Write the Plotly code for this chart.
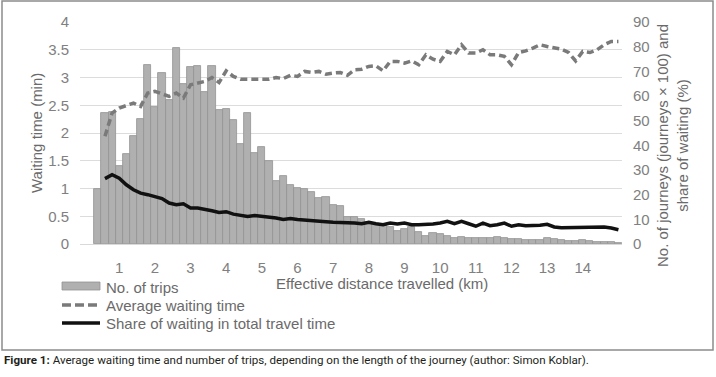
import plotly.graph_objects as go

# ---- data ----
distance_km = [round(0.2 * i, 1) for i in range(2, 76)]  # 0.4 ... 15.0 km bins
trips_x100 = [22.3, 53.3, 53.6, 31.5, 36.5, 43.7, 50.6, 72.5, 55.4, 69.5,
              58.5, 79.4, 64.8, 71.8, 72.0, 61.7, 72.2, 54.5, 54.7, 50.4,
              40.7, 53.1, 36.9, 39.4, 33.5, 25.4, 27.5, 23.9, 22.7, 22.3,
              20.9, 18.5, 19.1, 16.0, 15.3, 11.0, 11.0, 10.1, 8.8, 8.1,
              7.7, 6.8, 5.4, 6.1, 6.8, 5.0, 3.4, 4.5, 4.1, 3.2,
              2.3, 2.9, 2.3, 2.5, 2.6, 2.4, 2.9, 2.6, 2.2, 2.0,
              1.8, 1.7, 1.6, 2.3, 1.9, 1.5, 1.2, 1.1, 1.5, 1.3,
              1.0, 0.8, 0.7, 0.6]
line_x = distance_km[1:]
avg_wait_min = [1.94, 2.36, 2.45, 2.49, 2.54, 2.48, 2.72, 2.75, 2.70, 2.66,
                2.72, 2.63, 2.87, 2.90, 2.93, 3.00, 2.91, 3.12, 3.02, 2.97, 2.97,
                2.97, 2.97, 2.97, 3.00, 2.98, 3.04, 3.02, 3.11, 3.09, 3.11,
                3.06, 3.08, 3.09, 3.04, 3.14, 3.15, 3.20, 3.21, 3.12, 3.29,
                3.29, 3.26, 3.30, 3.23, 3.41, 3.33, 3.29, 3.47, 3.41, 3.59,
                3.44, 3.44,
                3.50, 3.41, 3.41, 3.38, 3.23, 3.45, 3.48, 3.53, 3.59, 3.56,
                3.54, 3.51, 3.45, 3.30, 3.47, 3.45, 3.50, 3.59, 3.65, 3.65]
share_wait_pct = [26.5, 28.1, 26.7, 24.0, 22.0, 20.6, 20.0, 19.3, 18.4, 16.6,
                  15.9, 16.3, 14.6, 14.6, 14.2, 13.5, 12.8, 13.1, 12.1, 11.6, 11.2,
                  11.5, 11.2, 10.9, 10.5, 9.9, 10.3, 9.9, 9.6, 9.6, 9.2,
                  9.0, 8.8, 8.8, 8.5, 8.5, 8.2, 8.8, 8.2, 7.8, 8.5,
                  8.1, 8.5, 7.8, 7.8, 7.8, 8.1, 8.5, 9.2, 8.2, 9.2,
                  8.2, 7.2,
                  8.5, 7.4, 7.8, 8.5, 7.2, 7.8, 7.4, 7.4, 7.6, 8.0,
                  6.9, 6.6, 6.6, 6.7, 6.7, 6.9, 6.6, 6.9, 6.5, 5.8]
x_ticks = list(range(1, 15))
left_ticks = [0, 0.5, 1, 1.5, 2, 2.5, 3, 3.5, 4]
left_labels = ["0", "0.5", "1", "1.5", "2", "2.5", "3", "3.5", "4"]
right_ticks = list(range(0, 91, 10))

# ---- layout geometry (pixels) ----
W, H = 716, 377
L, R, T, B = 80, 622, 22, 244


def px(x):
    return (x - L) / (R - L)


def py(y):
    return (B - y) / (B - T)


FONT = "Liberation Sans, Arial, sans-serif"
TICK_C = "#808080"
TXT_C = "#6a6a6a"
DASH = "7px,4px"

fig = go.Figure()
# right axis (primary y): bars and share of waiting
fig.add_trace(go.Bar(x=distance_km, y=trips_x100, name="No. of trips", yaxis="y",
                     marker=dict(color="#b0b0b0", line=dict(color="#929292", width=0.8)),
                     showlegend=False))
fig.add_trace(go.Scatter(x=line_x, y=share_wait_pct, name="Share of waiting in total travel time",
                         yaxis="y", mode="lines", line=dict(color="#111111", width=3.5),
                         showlegend=False))
# left axis (overlay y2): average waiting time
fig.add_trace(go.Scatter(x=line_x, y=avg_wait_min, name="Average waiting time", yaxis="y2",
                         mode="lines", line=dict(color="#7a7a7a", width=3.5, dash=DASH),
                         showlegend=False))

shapes = [
    dict(type="rect", xref="paper", yref="paper", x0=px(2), x1=px(713), y0=py(350), y1=py(1),
         line=dict(color="#8c8c8c", width=1.5), layer="below"),
    dict(type="rect", xref="paper", yref="paper", x0=px(62), x1=px(100), y0=py(290), y1=py(282),
         fillcolor="#b0b0b0", line=dict(color="#929292", width=0.8)),
    dict(type="line", xref="paper", yref="paper", x0=px(62), x1=px(100), y0=py(305), y1=py(305),
         line=dict(color="#7a7a7a", width=3.5, dash="9px,4px")),
    dict(type="line", xref="paper", yref="paper", x0=px(62), x1=px(100), y0=py(323), y1=py(323),
         line=dict(color="#111111", width=3.5)),
]

ann = [
    dict(text="Waiting time (min)", x=px(36), y=py(133), textangle=-90,
         font=dict(size=15, color=TXT_C, family=FONT)),
    dict(text="No. of journeys (journeys × 100) and<br>share of waiting (%)", x=px(672), y=py(146),
         textangle=-90, font=dict(size=15, color=TXT_C, family=FONT)),
    dict(text="Effective distance travelled (km)", x=px(382), y=py(283),
         font=dict(size=15, color=TXT_C, family=FONT)),
    dict(text="No. of trips", x=px(104), y=py(287), xanchor="left",
         font=dict(size=15, color=TXT_C, family=FONT)),
    dict(text="Average waiting time", x=px(104), y=py(305), xanchor="left",
         font=dict(size=15, color=TXT_C, family=FONT)),
    dict(text="Share of waiting in total travel time", x=px(104), y=py(323), xanchor="left",
         font=dict(size=15, color=TXT_C, family=FONT)),
    dict(text="<b>Figure 1:</b> Average waiting time and number of trips, depending on the length "
              "of the journey (author: Simon Koblar).",
         x=px(2), y=py(360), xanchor="left",
         font=dict(size=11.6, color="#231f20", family="Roboto, sans-serif")),
]
for a in ann:
    a.update(xref="paper", yref="paper", showarrow=False)
    a.setdefault("xanchor", "center")
    a.setdefault("yanchor", "middle")

fig.update_layout(
    width=W, height=H,
    margin=dict(l=L, r=W - R, t=T, b=H - B, pad=0),
    paper_bgcolor="white", plot_bgcolor="white",
    bargap=0,
    font=dict(family=FONT, size=15, color=TICK_C),
    xaxis=dict(range=[-0.1, 15.1], tickmode="array", tickvals=x_ticks,
               showgrid=False, zeroline=False, showline=True, linecolor="#d9d9d9",
               ticks="", ticklabelstandoff=10, tickfont=dict(size=15, color=TICK_C)),
    yaxis=dict(range=[0, 90], side="right", tickmode="array", tickvals=right_ticks,
               showgrid=False, zeroline=False, ticks="",
               ticklabelstandoff=10, tickfont=dict(size=15, color=TICK_C)),
    yaxis2=dict(range=[0, 4], overlaying="y", side="left", tickmode="array",
                tickvals=left_ticks, ticktext=left_labels,
                showgrid=True, gridcolor="#dcdcdc", gridwidth=1, zeroline=False,
                ticks="", ticklabelstandoff=10, tickfont=dict(size=15, color=TICK_C)),
    shapes=shapes,
    annotations=ann,
)

fig.write_html("out.html", config={"displayModeBar": False},
               post_script="document.body.style.margin='0';")
